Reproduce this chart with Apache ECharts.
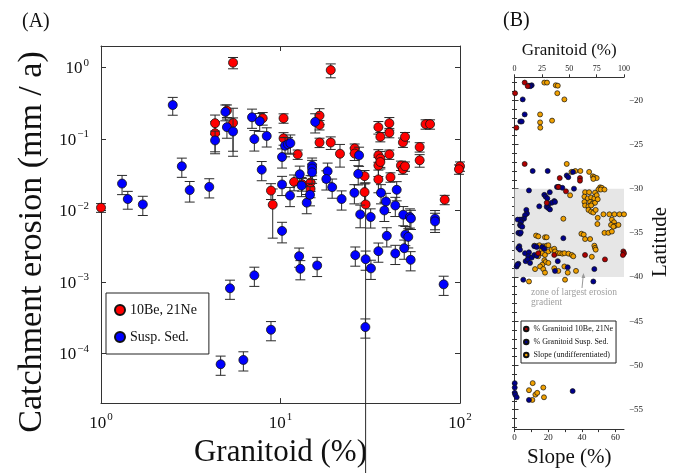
<!DOCTYPE html>
<html><head><meta charset="utf-8">
<script src="https://cdn.jsdelivr.net/npm/echarts@6/dist/echarts.min.js"></script>
<style>html,body{margin:0;padding:0;background:#fff}#c{width:680px;height:473px}</style>
</head><body><div id="c"></div>
<script>
// ---------- Panel A : [granitoid %, erosion mm/a, relative error] ----------
const cosmoPts = [
[1.0,0.0109,0.14],[5.44,1.17,0.18],[19.05,0.92,0.22],[5.03,0.249,0.2],[4.32,0.166,0.3],
[4.32,0.12,0.45],[5.44,0.168,0.6],[7.96,0.195,0.2],[10.4,0.195,0.15],[10.4,0.102,0.2],
[16.5,0.212,0.25],[16.5,0.157,0.15],[16.5,0.089,0.15],[19.05,0.089,0.2],[12.47,0.0608,0.15],
[11.9,0.025,0.25],[13.2,0.0232,0.2],[14.7,0.0245,0.25],[14.7,0.020,0.25],[8.85,0.0189,0.25],
[9.05,0.012,0.66],[21.45,0.062,0.35],[25.9,0.0738,0.15],[25.9,0.0624,0.2],[29.4,0.0301,0.2],
[29.4,0.018,0.3],[29.8,0.0121,1.0],[35.1,0.146,0.2],[36.0,0.107,0.15],[40.4,0.166,0.2],
[40.4,0.122,0.15],[48.1,0.0894,0.15],[49.4,0.107,0.15],[59.6,0.0769,0.15],[59.6,0.0502,0.2],
[64.3,0.161,0.15],[68.1,0.161,0.15],[35.1,0.0589,0.2],[36.0,0.0532,0.25],[35.1,0.0425,0.3],
[36.0,0.0475,0.2],[40.4,0.0608,0.15],[35.1,0.0271,0.35],[41.0,0.0291,0.15],[46.9,0.0425,0.15],
[48.1,0.0376,0.15],[49.4,0.0414,0.15],[82.2,0.0141,0.15],[100,0.0414,0.15],[98.7,0.0376,0.15]
];
const suspPts = [
[1.31,0.0237,0.3],[1.41,0.0144,0.28],[1.71,0.0121,0.3],[2.51,0.298,0.28],[2.82,0.0414,0.3],
[3.12,0.0192,0.32],[4.01,0.0213,0.3],[4.32,0.0953,0.35],[4.93,0.239,0.25],[5.03,0.146,0.3],
[5.44,0.127,0.55],[6.94,0.201,0.3],[7.15,0.0994,0.32],[7.66,0.177,0.28],[7.86,0.0371,0.3],
[8.38,0.110,0.3],[10.2,0.0558,0.3],[10.2,0.023,0.3],[10.2,0.00515,0.32],[10.6,0.0802,0.3],
[11.0,0.084,0.25],[11.35,0.0874,0.3],[11.3,0.0161,0.3],[12.8,0.032,0.3],[13.1,0.0222,0.3],
[14.0,0.0128,0.3],[14.6,0.0165,0.3],[15.0,0.0422,0.28],[15.0,0.0385,0.3],[15.0,0.0341,0.3],
[15.6,0.173,0.3],[18.3,0.0353,0.3],[18.0,0.0275,0.3],[19.4,0.0211,0.3],[21.9,0.0144,0.3],
[25.8,0.0176,0.3],[27.4,0.0589,0.3],[27.1,0.0324,0.3],[27.8,0.00877,0.35],[31.8,0.00807,0.3],
[36.3,0.0176,0.3],[38.7,0.0133,0.3],[37.9,0.00997,0.3],[43.6,0.0117,0.3],[44.4,0.0194,0.3],
[48.3,0.00869,0.3],[52.6,0.00807,0.3],[53.3,0.0077,0.3],[72.6,0.00764,0.3],[72.6,0.0070,0.3],
[39.1,0.00439,0.3],[35.1,0.00268,0.3],[43.6,0.00249,0.3],[48.9,0.00295,0.3],[49.6,0.00457,0.3],
[51.5,0.00425,0.3],[53.1,0.00203,0.3],[31.9,0.00154,0.3],[81.1,0.00092,0.3],[26.1,0.00236,0.3],
[29.8,0.00207,0.3],[29.7,0.000232,0.3],[12.7,0.00228,0.3],[12.9,0.00152,0.3],[16.0,0.00169,0.3],
[7.15,0.00123,0.3],[8.85,0.000213,0.3],[5.23,0.00081,0.3],[4.64,7.0e-5,0.3],[6.21,8.04e-5,0.3]
];
const yTickValues = [1e-4,1e-3,1e-2,1e-1,1];
const xTickValues = [1,10,100];

// ---------- Panel B : [value, latitude] ----------
const bCosmoGran = [
[9.3,-18.0],[12.1,-18.4],[0.5,-19.2],[1.7,-23.1],[9.3,-27.2],[41.3,-28.8],[59.8,-28.8],[59.8,-29.1],
[40.0,-29.8],[47.0,-30.3],[29.4,-31.6],[21.7,-37.3],[36.3,-37.5],[64.4,-37.5],[82.6,-38.0],
[99.4,-37.1],[100,-37.3],[99.0,-37.5]
];
const bSuspGran = [
[13.2,-18.35],[15.7,-18.3],[14.5,-18.4],[7.5,-19.9],[9.3,-21.6],[5.3,-22.4],[6.6,-22.4],[16.6,-28.0],
[30.3,-28.0],[47.7,-28.5],[49.1,-28.7],[53.4,-28.1],[54.3,-30.0],[38.8,-29.8],[40.6,-29.8],[43.7,-29.9],
[13.2,-30.2],[32.2,-30.4],[27.2,-30.7],[28.5,-30.9],[30.0,-31.1],[36.3,-31.4],[34.0,-31.6],[37.0,-31.5],
[30.9,-31.75],[29.4,-32.05],[30.9,-32.2],[32.4,-32.35],[22.6,-32.0],[10.8,-32.4],[11.4,-32.8],[9.6,-33.0],
[8.7,-33.4],[6.6,-33.5],[5.0,-33.5],[2.9,-33.5],[5.9,-33.8],[5.0,-34.1],[5.7,-34.2],[7.1,-34.3],
[3.5,-35.0],[5.0,-35.1],[5.7,-34.95],[4.4,-36.5],[3.5,-36.7],[5.0,-36.9],[9.6,-37.3],[13.2,-37.2],
[12.6,-37.65],[15.7,-37.8],[10.2,-38.2],[12.1,-38.0],[14.2,-38.4],[3.5,-38.5],[2.0,-38.8],[2.6,-38.6],
[44.6,-35.6],[39.5,-38.2],[37.0,-39.3],[48.6,-38.9],[72.9,-39.1],[72.0,-40.5],[8.0,-40.3],[25.4,-36.6],
[27.2,-36.8],[18.1,-36.5],[20.3,-36.6],[18.1,-37.5],[20.3,-37.6],[0.2,-52.0],[0.2,-52.5],[0.2,-53.1],
[0.7,-53.3],[2.0,-53.6],[13.2,-53.9],[53.1,-52.9]
];
const bSlope = [
[17.7,-18.0],[19.3,-18.0],[24.5,-18.3],[25.7,-18.35],[25.4,-19.2],[29.6,-19.9],[15.2,-21.6],[15.2,-22.5],
[22.3,-22.3],[15.3,-23.1],[31.0,-27.2],[33.8,-28.1],[36.1,-28.0],[39.1,-28.0],[44.3,-28.1],[46.5,-28.6],
[47.4,-28.7],[48.8,-28.8],[46.8,-28.9],[50.8,-29.85],[51.8,-29.9],[49.8,-30.1],[51.2,-30.1],[53.4,-30.1],
[41.9,-30.4],[44.3,-30.4],[47.8,-30.45],[33.0,-30.75],[41.5,-30.9],[43.5,-31.1],[45.5,-31.0],[47.4,-31.1],
[48.8,-30.75],[41.5,-31.5],[44.9,-31.5],[46.2,-31.7],[47.8,-31.6],[49.4,-31.2],[41.9,-31.9],[43.9,-32.0],
[45.5,-31.9],[43.9,-32.4],[45.5,-32.6],[46.8,-32.7],[48.2,-32.4],[49.4,-33.3],[52.8,-32.9],[56.3,-32.9],
[59.3,-32.9],[62.3,-32.9],[65.0,-32.9],[57.8,-33.5],[59.1,-33.8],[59.7,-34.2],[57.3,-34.1],[58.7,-34.3],
[61.7,-34.1],[49.2,-34.0],[29.0,-33.4],[53.4,-35.0],[55.7,-35.0],[57.8,-34.85],[39.7,-35.1],[41.1,-35.2],
[41.9,-35.7],[44.9,-35.7],[47.4,-36.45],[47.8,-36.7],[48.2,-36.9],[45.9,-37.7],
[11.8,-36.45],[13.4,-36.5],[14.8,-36.4],[17.1,-36.5],[19.1,-36.45],[20.1,-36.4],[12.8,-35.3],[14.1,-35.4],
[18.1,-35.5],[19.1,-35.5],[16.2,-36.9],[16.5,-37.3],[18.1,-37.5],[20.1,-37.1],[22.1,-36.9],[23.6,-36.8],
[24.1,-37.1],[25.7,-37.3],[27.0,-37.3],[28.4,-37.35],[29.6,-37.3],[32.0,-37.35],[34.0,-37.5],[34.9,-37.65],
[17.7,-38.1],[18.5,-38.3],[20.1,-38.4],[16.5,-38.6],[15.2,-38.8],[12.2,-39.1],[17.1,-39.1],[18.1,-39.5],
[23.6,-39.0],[26.0,-39.3],[29.6,-38.8],[31.6,-39.5],[36.5,-39.3],[8.6,-40.5],[30.0,-40.3],[14.1,-37.65],
[10.8,-52.0],[17.1,-52.5],[8.6,-52.8],[12.4,-53.3],[13.5,-53.1],[17.5,-53.6],[10.6,-53.9]
];
const latLabels = [-55,-50,-45,-40,-35,-30,-25,-20];
const latMinorTicks = [];
for (let v = -57; v <= -18; v++) latMinorTicks.push(v);
const zoneLat = [-30, -40];

const SERIF = 'Liberation Serif';
const Y_MIN = 2e-5;
const chart = echarts.init(document.getElementById('c'), null, {renderer:'canvas'});

function errData(pts){ return pts.map(p => { const lo = p[1]*(1-p[2]); return [p[0], lo > Y_MIN ? lo : Y_MIN, p[1]*(1+p[2]), lo > Y_MIN ? 1 : 0]; }); }
function errRender(params, api){
  const x = api.value(0);
  const full = api.value(3) === 1;
  const p1 = api.coord([x, api.value(2)]);
  let p0 = api.coord([x, api.value(1)]);
  if (!full) p0 = [p0[0], api.getHeight()];
  const st = {stroke:'#2a2a2a', lineWidth:1};
  const ch = [
    {type:'line', shape:{x1:p0[0],y1:p0[1],x2:p1[0],y2:p1[1]}, style:st},
    {type:'line', shape:{x1:p1[0]-5,y1:p1[1],x2:p1[0]+5,y2:p1[1]}, style:st}
  ];
  if (full) ch.push({type:'line', shape:{x1:p0[0]-5,y1:p0[1],x2:p0[0]+5,y2:p0[1]}, style:st});
  return {type:'group', children:ch};
}
function powLabel(v){
  const e = Math.round(Math.log10(v));
  if (Math.abs(Math.log10(v) - e) > 0.01) return '';
  return '{b|10}{s|' + String(e).replace('-', '\u2212') + '}';
}
const powRich = {
  b:{fontFamily:SERIF, fontSize:17, color:'#111', lineHeight:20, verticalAlign:'bottom'},
  s:{fontFamily:SERIF, fontSize:11, color:'#111', lineHeight:12, verticalAlign:'top', padding:[0,0,0,1]}
};
const axLine = {show:true, lineStyle:{color:'#333', width:1}};
const lblSmall = {fontFamily:SERIF, fontSize:9, color:'#222'};

const option = {
  animation:false,
  backgroundColor:'#fff',
  grid:[
    {left:101, top:46, width:359, height:359, show:false},
    {left:514.5, top:77.3, width:109.5, height:355.4, show:false}
  ],
  xAxis:[
    {gridIndex:0, type:'log', min:1, max:100, position:'bottom',
     axisLine:axLine, splitLine:{show:false},
     axisTick:{show:true, inside:true, length:5, lineStyle:{color:'#333'}, customValues:xTickValues},
     axisLabel:{formatter:powLabel, rich:powRich, margin:9, customValues:xTickValues},
     name:'Granitoid (%)', nameLocation:'middle', nameGap:32,
     nameTextStyle:{fontFamily:SERIF, fontSize:31, color:'#111'}},
    {gridIndex:0, type:'log', min:1, max:100, position:'top',
     axisLine:axLine, splitLine:{show:false},
     axisTick:{show:true, inside:true, length:5, lineStyle:{color:'#333'}, customValues:xTickValues},
     axisLabel:{show:false}},
    {gridIndex:1, type:'value', min:0, max:65, position:'bottom',
     axisLine:axLine, splitLine:{show:false},
     axisTick:{show:true, length:3, lineStyle:{color:'#333'}, customValues:[0,10,20,30,40,50,60]},
     axisLabel:Object.assign({margin:4, customValues:[0,20,40,60]}, lblSmall),
     name:'Slope (%)', nameLocation:'middle', nameGap:15,
     nameTextStyle:{fontFamily:SERIF, fontSize:21, color:'#111', verticalAlign:'top'}},
    {gridIndex:1, type:'value', min:0, max:100, position:'top',
     axisLine:axLine, splitLine:{show:false},
     axisTick:{show:true, length:3, lineStyle:{color:'#333'}, customValues:[0,25,50,75,100]},
     axisLabel:Object.assign({margin:4, customValues:[0,25,50,75,100]}, lblSmall, {fontSize:8}),
     name:'Granitoid (%)', nameLocation:'middle', nameGap:18,
     nameTextStyle:{fontFamily:SERIF, fontSize:17, color:'#111', verticalAlign:'bottom'}}
  ],
  yAxis:[
    {gridIndex:0, type:'log', min:Y_MIN, max:2, position:'left',
     axisLine:axLine, splitLine:{show:false},
     axisTick:{show:true, inside:true, length:5, lineStyle:{color:'#333'}, customValues:yTickValues},
     axisLabel:{formatter:powLabel, rich:powRich, margin:12, customValues:yTickValues}},
    {gridIndex:0, type:'log', min:Y_MIN, max:2, position:'right',
     axisLine:axLine, splitLine:{show:false},
     axisTick:{show:true, inside:true, length:5, lineStyle:{color:'#333'}, customValues:yTickValues},
     axisLabel:{show:false}},
    {gridIndex:1, type:'value', min:-57.2, max:-17.4, position:'right',
     axisLine:axLine, splitLine:{show:false},
     axisTick:{show:true, length:4, lineStyle:{color:'#333'}, customValues:latLabels},
     axisLabel:Object.assign({margin:5, customValues:latLabels, formatter:v => String(v).replace('-', '\u2212')}, lblSmall)},
    {gridIndex:1, type:'value', min:-57.2, max:-17.4, position:'right',
     axisLine:{show:false}, splitLine:{show:false},
     axisTick:{show:true, length:2.5, lineStyle:{color:'#333'}, customValues:latMinorTicks},
     axisLabel:{show:false}},
    {gridIndex:1, type:'value', min:-57.2, max:-17.4, position:'left',
     axisLine:axLine, splitLine:{show:false},
     axisTick:{show:true, length:2.5, lineStyle:{color:'#333'}, customValues:latMinorTicks},
     axisLabel:{show:false}}
  ],
  legend:[
    {data:['10Be, 21Ne','Susp. Sed.'], orient:'vertical', left:106, top:293,
     backgroundColor:'#fff', borderColor:'#222', borderWidth:1, borderRadius:0,
     padding:[10,12,10,8], itemGap:13, itemWidth:10, itemHeight:10, icon:'circle',
     textStyle:{fontFamily:SERIF, fontSize:14, color:'#111'}},
    {data:['% Granitoid 10Be, 21Ne','% Granitoid Susp. Sed.','Slope (undifferentiated)'],
     orient:'vertical', left:521, top:321,
     backgroundColor:'#fff', borderColor:'#222', borderWidth:1, borderRadius:0,
     padding:[4,3,4,2], itemGap:5, itemWidth:4.5, itemHeight:4.5, icon:'circle',
     textStyle:{fontFamily:SERIF, fontSize:8, color:'#111'}}
  ],
  graphic:[
    {type:'text', left:22, top:12, style:{text:'(A)', font:'20px "Liberation Serif"', fill:'#111'}},
    {type:'text', left:503, top:11, style:{text:'(B)', font:'20px "Liberation Serif"', fill:'#111'}},
    {type:'text', x:32, y:242, rotation:Math.PI/2,
     style:{text:'Catchment erosion (mm / a)', font:'34px "Liberation Serif"', fill:'#111', align:'center', verticalAlign:'middle'}},
    {type:'text', x:660, y:242, rotation:Math.PI/2,
     style:{text:'Latitude', font:'21px "Liberation Serif"', fill:'#111', align:'center', verticalAlign:'middle'}},
    {type:'text', left:531, top:287, z:10, style:{text:'zone of largest erosion\ngradient', font:'9.5px "Liberation Serif"', fill:'#a0a0a0', lineHeight:10.5}},
    {type:'line', z:10, shape:{x1:582, y1:288, x2:583.3, y2:275}, style:{stroke:'#999', lineWidth:1}},
    {type:'polygon', z:10, shape:{points:[[583.5,273],[581.5,278],[585.3,278]]}, style:{fill:'#999'}}
  ],
  series:[
    {type:'custom', name:'errCosmo', xAxisIndex:0, yAxisIndex:0, renderItem:errRender,
     data:errData(cosmoPts), encode:{x:0, y:[1,2]}, z:2, clip:false, silent:true},
    {type:'scatter', name:'10Be, 21Ne', xAxisIndex:0, yAxisIndex:0, data:cosmoPts.map(p=>[p[0],p[1]]),
     symbol:'circle', symbolSize:9, z:3, itemStyle:{color:'#ff0000', borderColor:'#111', borderWidth:0.8, opacity:1}},
    {type:'custom', name:'errSusp', xAxisIndex:0, yAxisIndex:0, renderItem:errRender,
     data:errData(suspPts), encode:{x:0, y:[1,2]}, z:4, clip:false, silent:true},
    {type:'scatter', name:'Susp. Sed.', xAxisIndex:0, yAxisIndex:0, data:suspPts.map(p=>[p[0],p[1]]),
     symbol:'circle', symbolSize:9, z:5, itemStyle:{color:'#0000ff', borderColor:'#111', borderWidth:0.8, opacity:1}},
    {type:'scatter', name:'zone', xAxisIndex:2, yAxisIndex:2, data:[], z:1,
     markArea:{silent:true, itemStyle:{color:'#e6e6e6'}, data:[[{yAxis:zoneLat[0]},{yAxis:zoneLat[1]}]]}},
    {type:'scatter', name:'Slope (undifferentiated)', xAxisIndex:2, yAxisIndex:2, data:bSlope,
     symbol:'circle', symbolSize:5, z:3, itemStyle:{color:'#f0a000', borderColor:'#111', borderWidth:0.7, opacity:1}},
    {type:'scatter', name:'% Granitoid Susp. Sed.', xAxisIndex:3, yAxisIndex:2, data:bSuspGran,
     symbol:'circle', symbolSize:5, z:4, itemStyle:{color:'#00008c', borderColor:'#111', borderWidth:0.7, opacity:1}},
    {type:'scatter', name:'% Granitoid 10Be, 21Ne', xAxisIndex:3, yAxisIndex:2, data:bCosmoGran,
     symbol:'circle', symbolSize:5, z:5, itemStyle:{color:'#b00000', borderColor:'#111', borderWidth:0.7, opacity:1}}
  ]
};
chart.setOption(option);
</script>
</body></html>
